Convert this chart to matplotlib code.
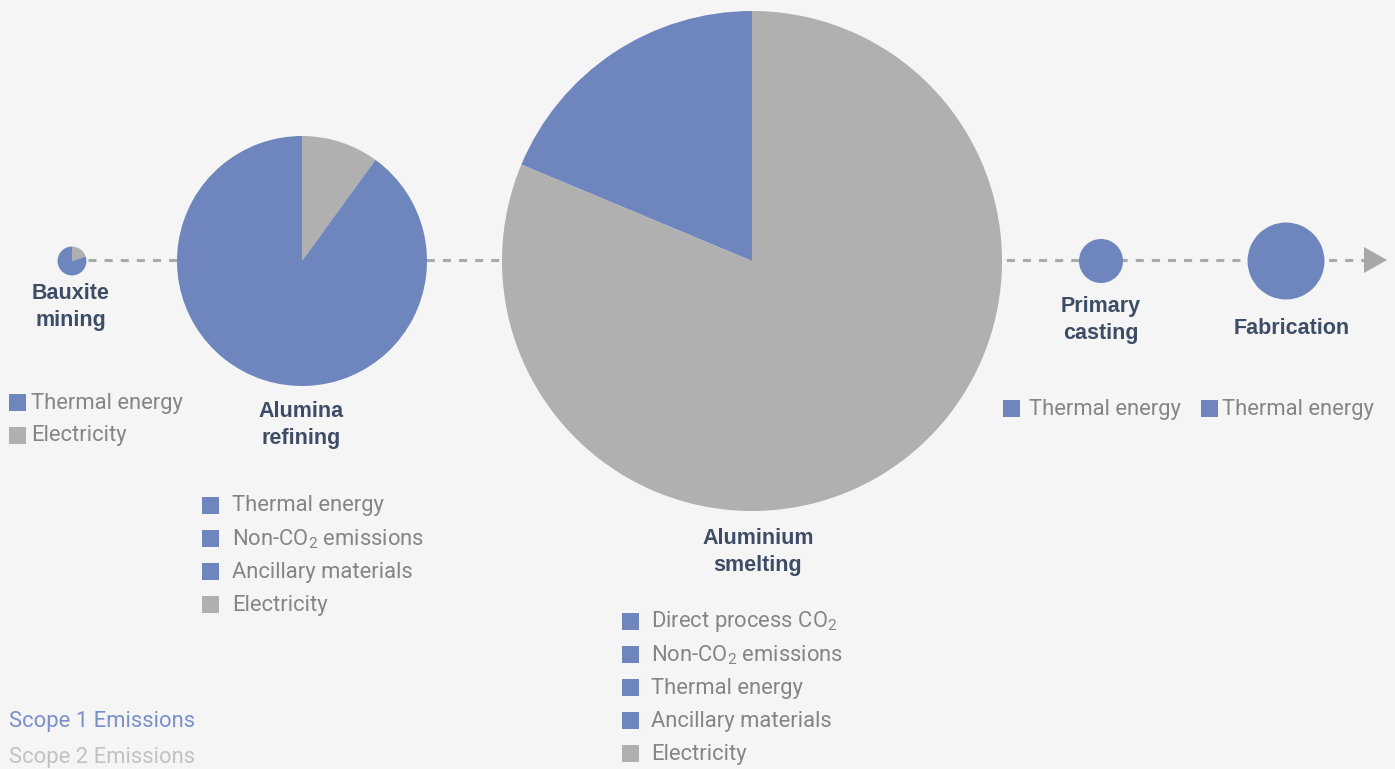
import matplotlib
matplotlib.use("Agg")
import matplotlib.pyplot as plt
import numpy as np
from matplotlib.patches import Polygon, Rectangle

W, H = 1395, 769

# ---------------- data ----------------
stages = ["Bauxite\nmining", "Alumina\nrefining", "Aluminium\nsmelting", "Primary\ncasting", "Fabrication"]
totals = [0.04, 3.0, 12.0, 0.093, 0.284]          # relative emissions (circle area)
scope1_share = [80, 90, 18.7, 100, 100]             # % scope 1
scope2_share = [20, 10, 81.3, 0, 0]                 # % scope 2

legend_bauxite = [("Thermal energy", 1), ("Electricity", 2)]
legend_alumina = [("Thermal energy", 1), ("Non-CO$_\\mathregular{2}$ emissions", 1),
                  ("Ancillary materials", 1), ("Electricity", 2)]
legend_smelting = [("Direct process CO$_\\mathregular{2}$", 1), ("Non-CO$_\\mathregular{2}$ emissions", 1),
                   ("Thermal energy", 1), ("Ancillary materials", 1), ("Electricity", 2)]
legend_casting = [("Thermal energy", 1)]
legend_fabrication = [("Thermal energy", 1)]
scope_labels = ["Scope 1 Emissions", "Scope 2 Emissions"]

# ---------------- style ----------------
BG = "#f5f5f5"
BLUE = "#6e86bd"
GRAY = "#b0b0b0"
TITLE_C = "#3e4d66"
TEXT_C = "#858585"
LINE_C = "#aaaaaa"
TXT_FAMILY = "Roboto"
TXT_WEIGHT = "normal"
TXT_SIZE = 15.8

plt.rcParams["mathtext.fontset"] = "custom"
plt.rcParams["mathtext.rm"] = "Roboto"
plt.rcParams["lines.scale_dashes"] = False

fig = plt.figure(figsize=(W / 100, H / 100), dpi=100, facecolor=BG)
ax = fig.add_axes([0, 0, 1, 1])
ax.set_facecolor(BG)

def Y(y):
    return H - y

# layout
centers_x = [72, 302, 752, 1101, 1286]
center_y = 261
R_ref = 250.0
ref_total = totals[2]

# dashed line + arrow
ax.plot([88, 1364], [Y(260), Y(260)], color=LINE_C, lw=2.2, dashes=(5.8, 5.8), zorder=1,
        solid_capstyle="butt", dash_capstyle="butt")
ax.add_patch(Polygon([[1364, Y(247)], [1387, Y(260)], [1364, Y(273)]], closed=True,
                     facecolor="#aaa8a6", edgecolor="none", zorder=1))

for i, (cx, tot) in enumerate(zip(centers_x, totals)):
    r = R_ref * np.sqrt(tot / ref_total)
    s1, s2 = scope1_share[i], scope2_share[i]
    if s2 == 0:
        vals, cols, cc = [s1], [BLUE], False
    elif i == 2:
        vals, cols, cc = [s1, s2], [BLUE, GRAY], True
    else:
        vals, cols, cc = [s2, s1], [GRAY, BLUE], False
    wedges, _ = ax.pie(vals, colors=cols, startangle=90, counterclock=cc,
                       center=(cx, Y(center_y)), radius=r, frame=True,
                       wedgeprops=dict(linewidth=0, zorder=3))
    for w in wedges:
        w.set_zorder(3)

# stage titles
title_kw = dict(family="Liberation Sans", weight="bold", fontsize=15.5, color=TITLE_C,
                ha="center", va="center", linespacing=1.4)
ax.text(71, Y(307), stages[0], **title_kw)
ax.text(301, Y(425), stages[1], **title_kw)
ax.text(758, Y(552), stages[2], **title_kw)
ax.text(1101, Y(320), stages[3], **title_kw)
ax.text(1292, Y(328), stages[4], **title_kw)

def legend(items, sq_x, txt_x, y0, dy):
    for k, (lab, sc) in enumerate(items):
        y = y0 + k * dy
        ax.add_patch(Rectangle((sq_x, Y(y) - 8.5), 17, 17, facecolor=BLUE if sc == 1 else GRAY,
                               edgecolor="none"))
        ax.text(txt_x, Y(y + 1), lab, family=TXT_FAMILY, weight=TXT_WEIGHT, fontsize=TXT_SIZE,
                color=TEXT_C, ha="left", va="center")

legend(legend_bauxite, 9, 31, 402, 33)
legend(legend_alumina, 202, 232, 505, 33.3)
legend(legend_smelting, 622, 651, 621, 33.2)
legend(legend_casting, 1003, 1029, 408, 33)
legend(legend_fabrication, 1201, 1222, 408, 33)

ax.text(9, Y(721), scope_labels[0], family=TXT_FAMILY, weight=TXT_WEIGHT, fontsize=TXT_SIZE,
        color="#7a90c8", ha="left", va="center")
ax.text(9, Y(757), scope_labels[1], family=TXT_FAMILY, weight=TXT_WEIGHT, fontsize=TXT_SIZE,
        color="#c2c2c2", ha="left", va="center")

ax.set_xlim(0, W)
ax.set_ylim(0, H)
ax.set_aspect("auto")
ax.axis("off")

fig.savefig("out.png", dpi=100, facecolor=BG)
